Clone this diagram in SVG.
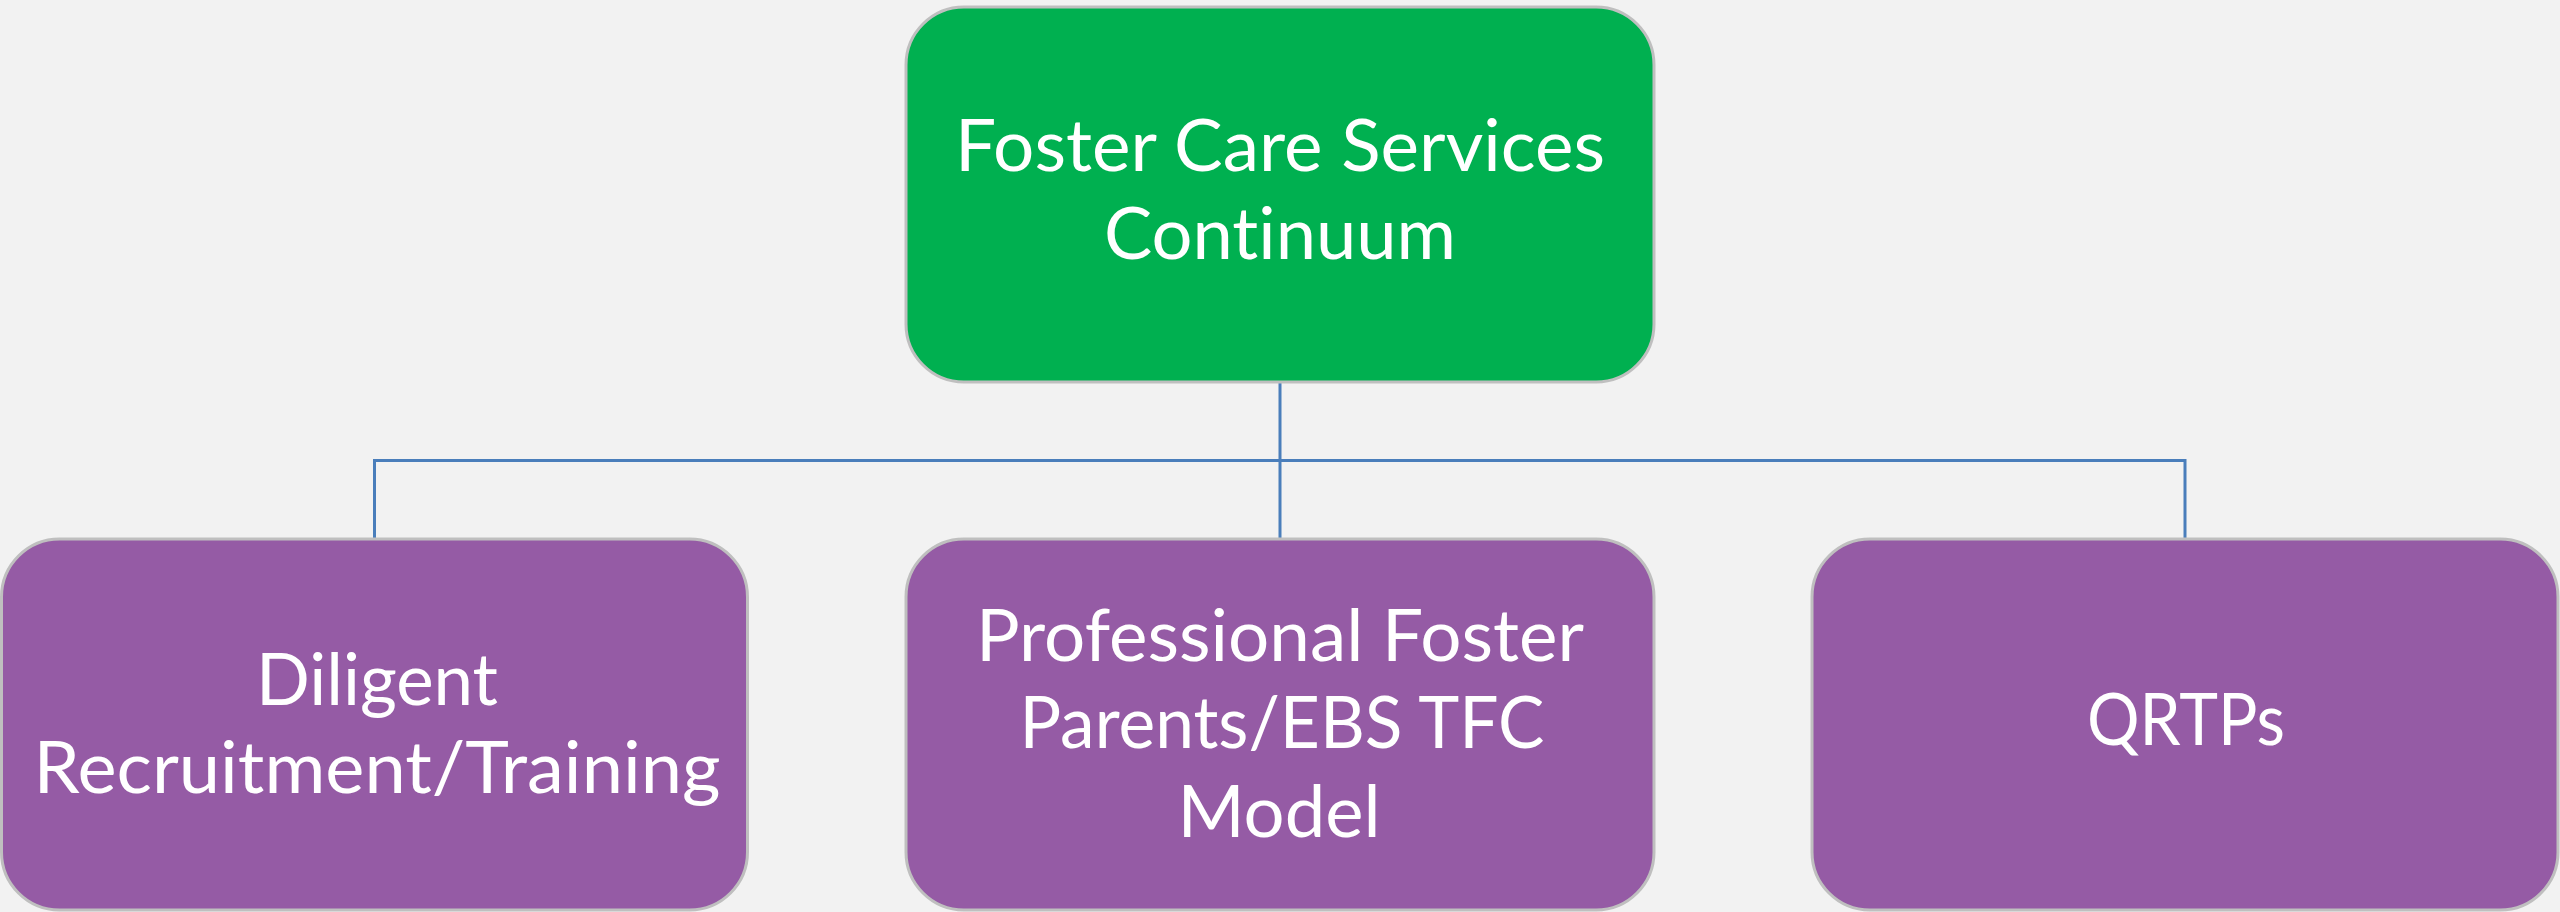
<svg xmlns="http://www.w3.org/2000/svg" width="2560" height="912" viewBox="0 0 2560 912">
<style>
.bg{fill:#F2F2F2}
.node{stroke:#BFBFBF;stroke-width:3}
.top{fill:#00B050}
.sub{fill:#955BA5}
.conn{fill:none;stroke:#4A7EBB;stroke-width:3}
.t{font-family:Lato,"Open Sans",sans-serif;font-size:72px;fill:#FFFFFF;text-anchor:middle;font-variant-ligatures:none;font-feature-settings:"liga" 0,"dlig" 0,"clig" 0}
</style>
<rect class="bg" x="0" y="0" width="2560" height="912"/>
<g id="connectors">
<path class="conn" d="M1280 382 V539"/>
<path class="conn" d="M374.5 539 V460.5 H2185 V539"/>
</g>
<g id="node-top">
<rect class="node top" x="906" y="7" width="748" height="375" rx="58" ry="58"/>
<text class="t" x="1280" y="171" textLength="650" lengthAdjust="spacingAndGlyphs">Foster Care Services</text>
<text class="t" x="1280" y="259" textLength="352" lengthAdjust="spacingAndGlyphs">Continuum</text>
</g>
<g id="node-left">
<rect class="node sub" x="1.5" y="539" width="746" height="371" rx="58" ry="58"/>
<text class="t" x="377" y="705" textLength="242" lengthAdjust="spacingAndGlyphs">Diligent</text>
<text class="t" x="377" y="793" textLength="687" lengthAdjust="spacingAndGlyphs">Recruitment/Training</text>
</g>
<g id="node-middle">
<rect class="node sub" x="906" y="539" width="748" height="371" rx="58" ry="58"/>
<text class="t" x="1280" y="661" textLength="608" lengthAdjust="spacingAndGlyphs">Professional Foster</text>
<text class="t" x="1282" y="748" textLength="525" lengthAdjust="spacingAndGlyphs">Parents/EBS TFC</text>
<text class="t" x="1279" y="837" textLength="203" lengthAdjust="spacingAndGlyphs">Model</text>
</g>
<g id="node-right">
<rect class="node sub" x="1812" y="539" width="746" height="371" rx="58" ry="58"/>
<text class="t" x="2186" y="745" textLength="198" lengthAdjust="spacingAndGlyphs">QRTPs</text>
</g>
</svg>
